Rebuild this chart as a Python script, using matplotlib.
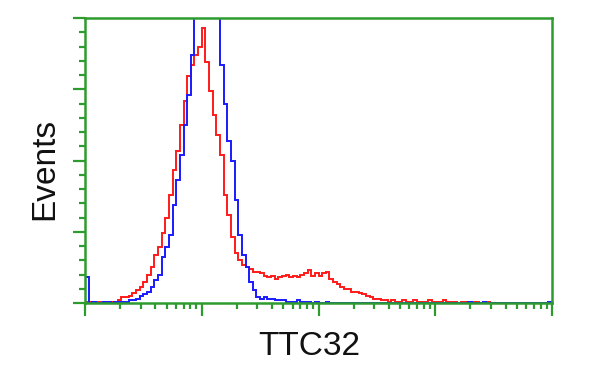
import numpy as np
import matplotlib.pyplot as plt
from matplotlib.ticker import MultipleLocator, LogLocator, NullFormatter

# histogram channels: 128 channels over 4 log decades (1 .. 10^4)
n_channels = 128
decades = 4

# counts per channel (y axis 0..200)
red_counts = [
    1, 1, 0, 1, 1, 0, 1, 1, 1, 2,
    4, 4, 5, 7, 9, 11, 15, 20, 25, 34,
    39, 49, 60, 76, 93, 107, 125, 142, 159, 167,
    174, 180, 193, 169, 149, 132, 118, 104, 76, 62,
    46, 35, 30, 27, 25, 24, 22, 22, 21, 19,
    18, 19, 17, 18, 19, 20, 18, 19, 18, 20,
    21, 23, 19, 21, 19, 21, 22, 17, 15, 13,
    11, 10, 10, 8, 8, 7, 6, 5, 4, 3,
    3, 2, 2, 1, 2, 1, 1, 2, 1, 1,
    2, 1, 1, 1, 2, 1, 1, 1, 2, 1,
    1, 1, 0, 1, 1, 0, 1, 1, 0, 0,
    1, 0, 0, 0, 0, 0, 0, 0, 0, 0,
    0, 0, 0, 0, 0, 0, 0, 0,
]

blue_counts = [
    18, 0, 1, 0, 0, 1, 1, 0, 1, 1,
    1, 1, 2, 2, 3, 5, 6, 8, 11, 16,
    20, 32, 39, 48, 69, 86, 104, 125, 146, 174,
    215, 240, 250, 245, 235, 212, 204, 167, 140, 114,
    100, 72, 48, 34, 25, 15, 9, 4, 3, 4,
    3, 3, 2, 2, 2, 1, 1, 1, 2, 1,
    1, 1, 0, 1, 0, 0, 1, 0, 0, 0,
    0, 0, 0, 0, 0, 0, 0, 0, 0, 0,
    0, 0, 0, 0, 0, 0, 0, 0, 0, 0,
    0, 0, 0, 0, 0, 0, 0, 0, 0, 0,
    0, 0, 0, 0, 0, 1, 0, 0, 0, 1,
    0, 0, 0, 0, 0, 0, 0, 0, 0, 0,
    0, 0, 0, 0, 0, 0, 0, 1,
]

x_label = "TTC32"
y_label = "Events"

green = '#2e9b2e'

edges = 10.0 ** (np.arange(n_channels + 1) * decades / n_channels)

fig = plt.figure(figsize=(6, 3.75), dpi=100)
ax = fig.add_axes([85/600, 72/375, 467/600, 285/375])

ax.stairs(red_counts, edges, color='#ff1a1a', lw=1.4)
ax.stairs(blue_counts, edges, color='#1a1aff', lw=1.4)

ax.set_xscale('log')
ax.set_xlim(1, 1e4)
ax.set_ylim(0, 200)

ax.xaxis.set_major_locator(LogLocator(base=10, numticks=10))
ax.xaxis.set_minor_locator(LogLocator(base=10, subs=np.arange(2, 10), numticks=10))
ax.xaxis.set_minor_formatter(NullFormatter())
ax.yaxis.set_major_locator(MultipleLocator(50))
ax.yaxis.set_minor_locator(MultipleLocator(10))

ax.tick_params(which='both', direction='out', color=green, width=1.6,
               labelbottom=False, labelleft=False)
ax.tick_params(which='major', length=9)
ax.tick_params(which='minor', length=4)

for s in ax.spines.values():
    s.set_color(green)
    s.set_linewidth(1.8)

fig.text(309/600, 20/375, x_label, ha='center', va='baseline',
         fontsize=24, family='Liberation Sans', color='#111111')
fig.text(45/600, 206/375, y_label, ha='center', va='center', rotation=90,
         fontsize=24, family='Liberation Sans', color='#111111')

fig.savefig('out.png', dpi=100)
